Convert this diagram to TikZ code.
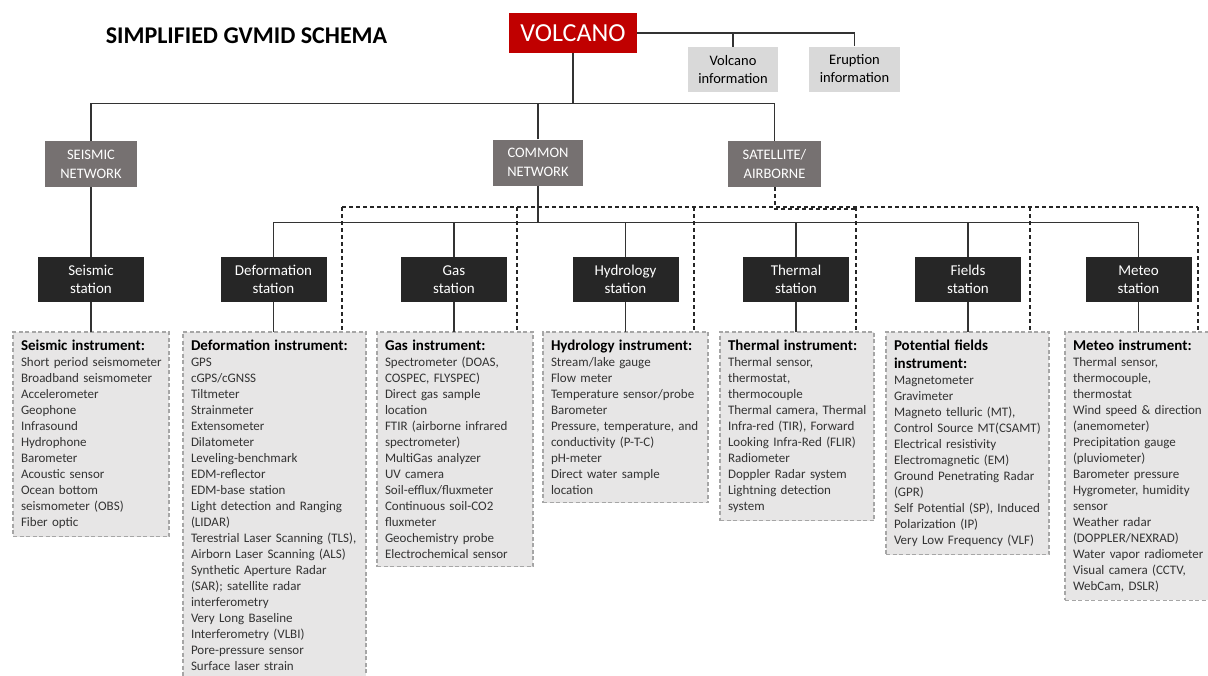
\documentclass[tikz,border=0pt]{standalone}
\usepackage{fontspec}
\setmainfont{Carlito}
\definecolor{volcred}{HTML}{C00000}
\definecolor{infogray}{HTML}{D9D9D9}
\definecolor{netgray}{HTML}{767171}
\definecolor{stblack}{HTML}{262626}
\definecolor{instgray}{HTML}{E7E6E6}
\definecolor{dashgray}{HTML}{A6A6A6}
\newcommand{\insttitle}[1]{{\bfseries\fontsize{15}{16}\selectfont\color{black}#1}}
\tikzset{
	conn/.style={draw=black!80,line width=1.3pt},
	satlink/.style={draw=black!85,line width=1.3pt,dash pattern=on 4pt off 3pt},
	volcbox/.style={fill=volcred,text=white,minimum width=128pt,minimum height=40pt,font=\fontsize{26}{30}\selectfont},
	infobox/.style={fill=infogray,align=center,minimum height=45pt,font=\fontsize{14.5}{18}\selectfont},
	netbox/.style={fill=netgray,text=white,align=center,minimum width=92pt,minimum height=46pt,font=\fontsize{14.5}{19}\selectfont},
	stbox/.style={fill=stblack,text=white,align=center,minimum width=106pt,minimum height=45pt,font=\fontsize{15}{18}\selectfont},
	instbox/.style={fill=instgray,draw=dashgray,line width=1.2pt,dash pattern=on 4pt off 2.5pt,anchor=north west,outer sep=0pt,
		align=left,inner xsep=4pt,inner ysep=8pt,execute at begin node={\leftskip=4pt},font=\fontsize{13}{16}\selectfont,text=black!80},
}
\begin{document}
\begin{tikzpicture}[x=1pt,y=-1pt]
	\useasboundingbox (0,0) rectangle (1208,675);
	\fill[white] (0,0) rectangle (1208,675);
	\node[font=\bfseries\fontsize{24}{28}\selectfont] (title) at (246.5,35.5) {SIMPLIFIED GVMID SCHEMA};
	\node[volcbox] (volc) at (573,33) {VOLCANO};
	\node[infobox,minimum width=90pt] (volcinfo) at (733,69.5) {Volcano\\information};
	\node[infobox,minimum width=91pt] (erupinfo) at (854.5,69) {Eruption\\information};
	% networks
	\node[netbox] (seisnet) at (91,164) {SEISMIC\\NETWORK};
	\node[netbox,minimum width=90pt] (comnet) at (538,162.5) {COMMON\\NETWORK};
	\node[netbox,minimum width=93pt] (satnet) at (774.5,164) {SATELLITE/\\AIRBORNE};
	% stations
	\node[stbox] (seisst) at (91,279.5) {Seismic\\station};
	\node[stbox] (defst) at (273.5,279.5) {Deformation\\station};
	\node[stbox] (gasst) at (454,279.5) {Gas\\station};
	\node[stbox] (hydst) at (625.5,279.5) {Hydrology\\station};
	\node[stbox] (thermst) at (796,279.5) {Thermal\\station};
	\node[stbox] (fieldst) at (968,279.5) {Fields\\station};
	\node[stbox] (metst) at (1138.5,279.5) {Meteo\\station};
	% instruments
	\node[instbox,text width=148pt] (seisin) at (13,332) {\insttitle{Seismic instrument:}\\
		Short period seismometer\\Broadband seismometer\\Accelerometer\\Geophone\\Infrasound\\Hydrophone\\
		Barometer\\Acoustic sensor\\Ocean bottom\\seismometer (OBS)\\Fiber optic};
	\node[instbox,text width=175pt] (defin) at (183,332) {\insttitle{Deformation instrument:}\\
		GPS\\cGPS/cGNSS\\Tiltmeter\\Strainmeter\\Extensometer\\Dilatometer\\Leveling-benchmark\\EDM-reflector\\
		EDM-base station\\Light detection and Ranging\\(LIDAR)\\Terestrial Laser Scanning (TLS),\\
		Airborn Laser Scanning (ALS)\\Synthetic Aperture Radar\\(SAR); satellite radar\\interferometry\\
		Very Long Baseline\\Interferometry (VLBI)\\Pore-pressure sensor\\Surface laser strain};
	\node[instbox,text width=148pt] (gasin) at (377,332) {\insttitle{Gas instrument:}\\
		Spectrometer (DOAS,\\COSPEC, FLYSPEC)\\Direct gas sample\\location\\FTIR (airborne infrared\\spectrometer)\\
		MultiGas analyzer\\UV camera\\Soil-efflux/fluxmeter\\Continuous soil-CO2\\fluxmeter\\Geochemistry probe\\
		Electrochemical sensor};
	\node[instbox,text width=157pt] (hydin) at (543,332) {\insttitle{Hydrology instrument:}\\
		Stream/lake gauge\\Flow meter\\Temperature sensor/probe\\Barometer\\Pressure, temperature, and\\
		conductivity (P-T-C)\\pH-meter\\Direct water sample\\location};
	\node[instbox,text width=146pt] (thermin) at (720,332) {\insttitle{Thermal instrument:}\\
		Thermal sensor,\\thermostat,\\thermocouple\\Thermal camera, Thermal\\Infra-red (TIR), Forward\\
		Looking Infra-Red (FLIR)\\Radiometer\\Doppler Radar system\\Lightning detection\\system};
	\node[instbox,text width=155pt] (fieldin) at (886,332) {\insttitle{Potential fields\\[2pt]instrument:}\\
		Magnetometer\\Gravimeter\\Magneto telluric (MT),\\Control Source MT(CSAMT)\\Electrical resistivity\\
		Electromagnetic (EM)\\Ground Penetrating Radar\\(GPR)\\Self Potential (SP), Induced\\Polarization (IP)\\
		Very Low Frequency (VLF)};
	\node[instbox,text width=141pt] (metin) at (1065,332) {\insttitle{Meteo instrument:}\\
		Thermal sensor,\\thermocouple,\\thermostat\\Wind speed \& direction\\(anemometer)\\Precipitation gauge\\
		(pluviometer)\\Barometer pressure\\Hygrometer, humidity\\sensor\\Weather radar\\(DOPPLER/NEXRAD)\\
		Water vapor radiometer\\Visual camera (CCTV,\\WebCam, DSLR)};
	% solid links
	\draw[conn] (volc.east) -| (erupinfo.north);
	\draw[conn] (volcinfo.north) -- (volcinfo.north |- volc.east);
	\draw[conn,line width=2pt] (volc.south) -- ++(0,50) coordinate (trunk);
	\draw[conn] (seisnet.north) |- (trunk) -| (satnet.north);
	\draw[conn] (comnet.north) -- (comnet.north |- trunk);
	\draw[conn] (seisnet.south) -- (seisst.north);
	\draw[conn] (comnet.south) -- ++(0,37) coordinate (cbus);
	\draw[conn] (defst.north) |- (cbus) -| (metst.north);
	\foreach \s in {gasst,hydst,thermst,fieldst}
		\draw[conn] (\s.north) -- (\s.north |- cbus);
	\foreach \s/\i in {seisst/seisin,defst/defin,gasst/gasin,hydst/hydin,thermst/thermin,fieldst/fieldin,metst/metin}
		\draw[conn] (\s.south) -- (\s.south |- \i.north);
	% satellite links
	\coordinate (sbusL) at (342,207);
	\coordinate (sbusR) at (1198,207);
	\coordinate (thermdrop) at (856,208.5);
	\draw[satlink] (sbusL) -- (sbusR);
	\draw[satlink,line width=2pt] (satnet.south) |- (thermdrop);
	\foreach \i/\x in {defin/342,gasin/517,hydin/694,thermin/856,fieldin/1030,metin/1198}{
		\coordinate (drop) at (\x,207);
		\draw[satlink] (drop) -- (drop |- \i.north);
	}
\end{tikzpicture}
\end{document}
